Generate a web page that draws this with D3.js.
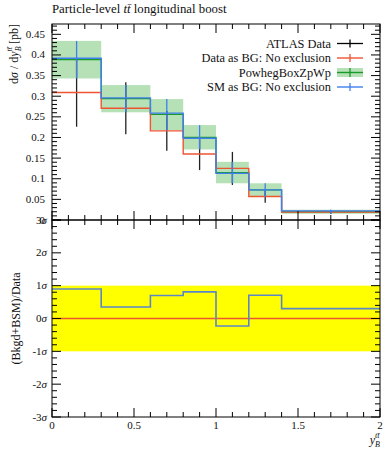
<!DOCTYPE html>
<html><head><meta charset="utf-8">
<script src="https://cdn.jsdelivr.net/npm/d3@7"></script>
<style>
html,body{margin:0;padding:0;background:#fff;}
svg{display:block;font-family:"Liberation Serif","DejaVu Serif",serif;}
</style></head>
<body><svg id="c" width="392" height="450"></svg>
<script>
// ---- data ----
const binEdges = [0, 0.3, 0.6, 0.8, 1.0, 1.2, 1.4, 2.0];
const atlasData = [0.309, 0.271, 0.216, 0.160, 0.125, 0.057, 0.019];
const atlasErr  = [0.083, 0.063, 0.048, 0.039, 0.040, 0.015, 0.004];
const dataAsBG  = [0.309, 0.271, 0.216, 0.160, 0.125, 0.057, 0.019];
const smAsBG    = [0.392, 0.296, 0.259, 0.198, 0.113, 0.073, 0.022];
const powheg    = [0.389, 0.294, 0.256, 0.200, 0.115, 0.073, 0.020];
const powhegLo  = [0.343, 0.261, 0.218, 0.171, 0.089, 0.056, 0.015];
const powhegHi  = [0.434, 0.327, 0.293, 0.230, 0.141, 0.089, 0.025];
const ratioDataBG = [0, 0, 0, 0, 0, 0, 0];
const ratioSM     = [0.90, 0.35, 0.70, 0.81, -0.23, 0.71, 0.30];
const topYTicks = [0.05, 0.1, 0.15, 0.2, 0.25, 0.3, 0.35, 0.4, 0.45];
const topYLabels = ["0.05","0.1","0.15","0.2","0.25","0.3","0.35","0.4","0.45"];
const botYTicks = [-3, -2, -1, 0, 1, 2, 3];
const botYLabels = ["-3σ","-2σ","-1σ","0σ","1σ","2σ","3σ"];
const xTicks = [0, 0.5, 1, 1.5, 2];
const xLabels = ["0","0.5","1","1.5","2"];
const legendNames = ["ATLAS Data", "Data as BG: No exclusion", "PowhegBoxZpWp", "SM as BG: No exclusion"];

const C_RED = "#ee5533", C_BLUE = "#3f7fee", C_GREEN = "#b6e0b6", C_DGREEN = "#1a9a2a", C_YELLOW = "#ffff00";

const svg = d3.select("#c");
const L = 52, R = 380, T = 24, M = 220, B = 417;
const x = d3.scaleLinear().domain([0, 2]).range([L, R]);
const yT = d3.scaleLinear().domain([0, 0.475]).range([M, T]);
const yB = d3.scaleLinear().domain([-3, 3]).range([B, M]);

function stepPts(vals) {
  const p = [];
  vals.forEach((v, i) => { p.push([binEdges[i], v]); p.push([binEdges[i+1], v]); });
  return p;
}
const mid = i => (binEdges[i] + binEdges[i+1]) / 2;

// ---- top panel ----
const gT = svg.append("g");
gT.selectAll("rect.band").data(powheg).enter().append("rect")
  .attr("x", (d,i) => x(binEdges[i])).attr("width", (d,i) => x(binEdges[i+1]) - x(binEdges[i]))
  .attr("y", (d,i) => yT(powhegHi[i])).attr("height", (d,i) => yT(powhegLo[i]) - yT(powhegHi[i]))
  .attr("fill", C_GREEN);
const lineT = d3.line().x(d => x(d[0])).y(d => yT(d[1]));
gT.append("path").attr("d", lineT(stepPts(powheg))).attr("fill","none").attr("stroke",C_DGREEN).attr("stroke-width",1.3);
gT.selectAll("line.err").data(atlasData).enter().append("line")
  .attr("x1",(d,i)=>x(mid(i))).attr("x2",(d,i)=>x(mid(i)))
  .attr("y1",(d,i)=>yT(d - atlasErr[i])).attr("y2",(d,i)=>yT(d + atlasErr[i]))
  .attr("stroke", "#222").attr("stroke-width", 1.3);
gT.append("path").attr("d", lineT(stepPts(dataAsBG))).attr("fill","none").attr("stroke",C_RED).attr("stroke-width",1.4);
gT.append("path").attr("d", lineT(stepPts(smAsBG))).attr("fill","none").attr("stroke",C_BLUE).attr("stroke-width",1.4);
gT.selectAll("line.berr").data(smAsBG).enter().append("line")
  .attr("x1",(d,i)=>x(mid(i))).attr("x2",(d,i)=>x(mid(i)))
  .attr("y1",(d,i)=>yT(powhegLo[i])).attr("y2",(d,i)=>yT(powhegHi[i]))
  .attr("stroke", C_BLUE).attr("stroke-width", 1.3);

// ---- bottom panel ----
const gB = svg.append("g");
gB.append("rect").attr("x", x(0)).attr("width", x(2)-x(0)).attr("y", yB(1)).attr("height", yB(-1)-yB(1)).attr("fill", C_YELLOW);
const lineB = d3.line().x(d => x(d[0])).y(d => yB(d[1]));
gB.append("path").attr("d", lineB(stepPts(ratioDataBG))).attr("fill","none").attr("stroke",C_RED).attr("stroke-width",1.4);
gB.append("path").attr("d", lineB(stepPts(ratioSM))).attr("fill","none").attr("stroke","#5b86c8").attr("stroke-width",1.6);

// ---- frames & ticks ----
const axG = svg.append("g").attr("stroke", "#000").attr("stroke-width", 1);
axG.append("rect").attr("x", L).attr("y", T).attr("width", R-L).attr("height", M-T).attr("fill","none");
axG.append("rect").attr("x", L).attr("y", M).attr("width", R-L).attr("height", B-M).attr("fill","none");
const MAJ = 9, MIN = 5;
function hTicks(yPos, dir) {
  d3.range(0, 21).forEach(k => {
    const v = k / 10;
    const major = xTicks.some(t => Math.abs(t - v) < 1e-9);
    const len = major ? MAJ : MIN;
    axG.append("line").attr("x1", x(v)).attr("x2", x(v)).attr("y1", yPos).attr("y2", yPos + dir*len);
  });
}
hTicks(T, 1); hTicks(M, -1); hTicks(M, 1); hTicks(B, -1);
function vTicks(scale, lo, hi, step, majors) {
  const n = Math.round((hi - lo) / step);
  for (let k = 0; k <= n; k++) {
    const v = lo + k * step;
    const major = majors.some(t => Math.abs(t - v) < 1e-9);
    const len = major ? MAJ : MIN;
    const yy = scale(v);
    axG.append("line").attr("x1", L).attr("x2", L + len).attr("y1", yy).attr("y2", yy);
    axG.append("line").attr("x1", R).attr("x2", R - len).attr("y1", yy).attr("y2", yy);
  }
}
vTicks(yT, 0, 0.47, 0.01, [0].concat(topYTicks));
vTicks(yB, -3, 3, 0.2, botYTicks);

// ---- tick labels ----
const txt = svg.append("g").attr("fill", "#111").attr("font-size", 11);
topYTicks.forEach((t, i) => txt.append("text").attr("x", 45).attr("y", yT(t) + 3.5).attr("text-anchor","end").text(topYLabels[i]));
txt.append("text").attr("x", 45).attr("y", yT(0) + 3.5).attr("text-anchor","end").text("0");
botYTicks.forEach((t, i) => {
  const lab = botYLabels[i];
  const el = txt.append("text").attr("x", 47).attr("y", yB(t) + 3.5).attr("text-anchor","end");
  el.append("tspan").text(lab.replace("σ",""));
  el.append("tspan").attr("font-style","italic").text("σ");
});
xTicks.forEach((t, i) => txt.append("text").attr("x", x(t)).attr("y", 429).attr("text-anchor","middle").text(xLabels[i]));

// axis titles
const xt = svg.append("text").attr("x", R).attr("y", 444).attr("text-anchor","end").attr("font-size", 12).attr("fill","#111");
xt.append("tspan").attr("font-style","italic").text("y");
xt.append("tspan").attr("font-style","italic").attr("font-size", 8).attr("dy", 3).text("B");
xt.append("tspan").attr("font-style","italic").attr("font-size", 8).attr("dx", -5).attr("dy", -9).text("tt\u0304");

const yt = svg.append("text").attr("transform", `translate(18,${T}) rotate(-90)`).attr("text-anchor","end").attr("font-size", 12).attr("fill","#111");
yt.append("tspan").text("d");
yt.append("tspan").attr("font-style","italic").text("σ");
yt.append("tspan").text(" / d");
yt.append("tspan").attr("font-style","italic").text("y");
yt.append("tspan").attr("font-style","italic").attr("font-size", 8).attr("dy", 3).text("B");
yt.append("tspan").attr("font-style","italic").attr("font-size", 8).attr("dx", -5).attr("dy", -9).text("tt\u0304");
yt.append("tspan").attr("dy", 6).text(" [pb]");

svg.append("text").attr("transform", `translate(20,${yB(0)}) rotate(-90)`).attr("text-anchor","middle").attr("font-size", 12).attr("fill","#111").text("(Bkgd+BSM)/Data");

// title
const tt = svg.append("text").attr("x", L).attr("y", 13).attr("font-size", 12.8).attr("fill","#111");
tt.append("tspan").text("Particle-level ");
tt.append("tspan").attr("font-style","italic").text("tt\u0304");
tt.append("tspan").text(" longitudinal boost");

// ---- legend ----
const lg = svg.append("g").attr("font-size", 12.4).attr("fill", "#111");
const rowY = [43.5, 58, 72.5, 87];
legendNames.forEach((n, i) => lg.append("text").attr("x", 331).attr("y", rowY[i] + 4).attr("text-anchor","end").text(n));
const sx0 = 337, sx1 = 363, sxm = 350;
lg.append("line").attr("x1",sx0).attr("x2",sx1).attr("y1",rowY[0]).attr("y2",rowY[0]).attr("stroke","#000").attr("stroke-width",1.3);
lg.append("line").attr("x1",sxm).attr("x2",sxm).attr("y1",rowY[0]-4).attr("y2",rowY[0]+4).attr("stroke","#000").attr("stroke-width",1.3);
lg.append("line").attr("x1",sx0).attr("x2",sx1).attr("y1",rowY[1]).attr("y2",rowY[1]).attr("stroke",C_RED).attr("stroke-width",1.4);
lg.append("line").attr("x1",sxm).attr("x2",sxm).attr("y1",rowY[1]-4).attr("y2",rowY[1]+4).attr("stroke",C_RED).attr("stroke-width",1.3);
lg.append("rect").attr("x",sx0).attr("width",sx1-sx0).attr("y",rowY[2]-4.5).attr("height",9).attr("fill",C_GREEN);
lg.append("line").attr("x1",sx0).attr("x2",sx1).attr("y1",rowY[2]).attr("y2",rowY[2]).attr("stroke",C_DGREEN).attr("stroke-width",1.4);
lg.append("line").attr("x1",sxm).attr("x2",sxm).attr("y1",rowY[2]-4.5).attr("y2",rowY[2]+4.5).attr("stroke",C_DGREEN).attr("stroke-width",1.3);
lg.append("line").attr("x1",sx0).attr("x2",sx1).attr("y1",rowY[3]).attr("y2",rowY[3]).attr("stroke",C_BLUE).attr("stroke-width",1.4);
lg.append("line").attr("x1",sxm).attr("x2",sxm).attr("y1",rowY[3]-4).attr("y2",rowY[3]+4).attr("stroke",C_BLUE).attr("stroke-width",1.3);
</script></body></html>
